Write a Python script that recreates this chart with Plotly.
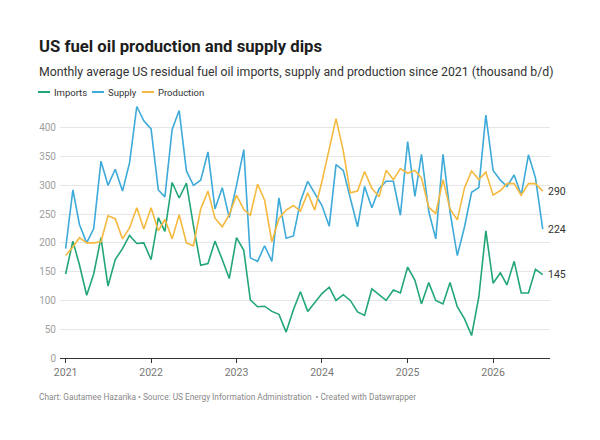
import pandas as pd
import plotly.graph_objects as go

# Monthly values, Jan 2021 - Aug 2026 (thousand b/d)
months = pd.date_range("2021-01-01", periods=68, freq="MS")

imports = [146, 203, 162, 109, 146, 209, 125, 171, 190, 213,
           199, 200, 171, 244, 220, 305, 278, 304, 230, 161,
           164, 203, 171, 138, 209, 187, 101, 89, 90, 81,
           76, 45, 84, 115, 81, 97, 112, 123, 100, 110,
           100, 80, 74, 120, 109, 100, 118, 113, 158, 135,
           94, 131, 100, 94, 131, 89, 68, 39, 106, 221,
           130, 148, 127, 168, 113, 113, 154, 145]

supply = [190, 292, 232, 200, 225, 342, 300, 328, 290, 339,
          437, 412, 398, 292, 280, 397, 430, 325, 300, 309,
          358, 259, 296, 244, 300, 362, 174, 168, 195, 168,
          278, 208, 212, 272, 307, 286, 265, 229, 336, 326,
          277, 228, 298, 261, 294, 307, 307, 248, 376, 281,
          354, 255, 207, 354, 254, 178, 228, 288, 296, 422,
          326, 309, 298, 318, 283, 353, 313, 224]

production = [178, 193, 209, 200, 200, 202, 247, 242, 207, 226,
              261, 224, 261, 221, 241, 207, 249, 200, 195, 259,
              290, 243, 228, 249, 283, 258, 248, 302, 274, 202,
              242, 257, 265, 255, 287, 257, 307, 365, 416, 360,
              287, 290, 324, 295, 280, 326, 310, 329, 321, 326,
              313, 262, 251, 310, 259, 240, 296, 325, 310, 323,
              283, 291, 303, 303, 283, 303, 303, 290]

series_names = ["Imports", "Supply", "Production"]
series_values = [imports, supply, production]
colors = ["#22a676", "#3daad9", "#f6b93f"]

y_ticks = [0, 50, 100, 150, 200, 250, 300, 350, 400]

# the page body adds an 8px offset, so the figure is drawn 8px smaller
OFF = 8
W, H = 600 - OFF, 440 - OFF
L, R, T, B = 60 - OFF, 50, 99 - OFF, 82
PW = W - L - R
PH = H - T - B


def px_x(p):
    # page pixel -> paper x
    return (p - OFF - L) / PW


def px_y(p):
    # page pixel -> paper y
    return (T + PH - (p - OFF)) / PH


FONT = "Roboto, 'Noto Sans', sans-serif"

fig = go.Figure()
for name, vals, col in zip(series_names, series_values, colors):
    fig.add_trace(go.Scatter(x=months, y=vals, name=name, mode="lines",
                             line=dict(color=col, width=1.6),
                             showlegend=False))

# end-of-line value labels
for vals in series_values:
    fig.add_annotation(x=months[-1], y=vals[-1], text=str(vals[-1]),
                       xanchor="left", xshift=3, showarrow=False,
                       font=dict(size=10.5, color="#333333", family=FONT))

# title, subtitle, legend and footer
fig.add_annotation(x=px_x(37), y=px_y(47), xref="paper", yref="paper",
                   text="<b>US fuel oil production and supply dips</b>",
                   xanchor="left", yanchor="middle", showarrow=False,
                   font=dict(size=16.7, color="#1d1d1d", family=FONT))
fig.add_annotation(x=px_x(37), y=px_y(72), xref="paper", yref="paper",
                   text="Monthly average US residual fuel oil imports, supply and production since 2021 (thousand b/d)",
                   xanchor="left", yanchor="middle", showarrow=False,
                   font=dict(size=12.3, color="#333333", family=FONT))

legend_x = [38, 92, 142]
for lx, name, col in zip(legend_x, series_names, colors):
    fig.add_shape(type="line", xref="paper", yref="paper",
                  x0=px_x(lx), x1=px_x(lx + 12), y0=px_y(92), y1=px_y(92),
                  line=dict(color=col, width=2))
    fig.add_annotation(x=px_x(lx + 14), y=px_y(92), xref="paper", yref="paper",
                       text=name, xanchor="left", yanchor="middle", showarrow=False,
                       font=dict(size=9.5, color="#333333", family=FONT))

fig.add_annotation(x=px_x(37), y=px_y(397), xref="paper", yref="paper",
                   text="Chart: Gautamee Hazarika • Source: US Energy Information Administration  • Created with Datawrapper",
                   xanchor="left", yanchor="middle", showarrow=False,
                   font=dict(size=8.3, color="#8a8a8a", family=FONT))

fig.update_xaxes(range=["2020-12-08", "2026-09-01"], dtick="M12", tickformat="%Y",
                 tick0="2021-01-01", showgrid=False, showline=True,
                 linecolor="#333333", linewidth=1, ticks="outside", ticklen=4,
                 tickcolor="#333333", tickfont=dict(size=10.5, color="#777777", family=FONT))
fig.update_yaxes(range=[0, 450], tickvals=y_ticks, showgrid=True, gridcolor="#e6e6e6",
                 zeroline=False, showline=False, ticklabelstandoff=3,
                 tickfont=dict(size=10, color="#a0a0a0", family=FONT))

fig.update_layout(width=W, height=H, plot_bgcolor="white", paper_bgcolor="white",
                  margin=dict(l=L, r=R, t=T, b=B), font=dict(family=FONT),
                  showlegend=False)

fig.write_html("out.html")
